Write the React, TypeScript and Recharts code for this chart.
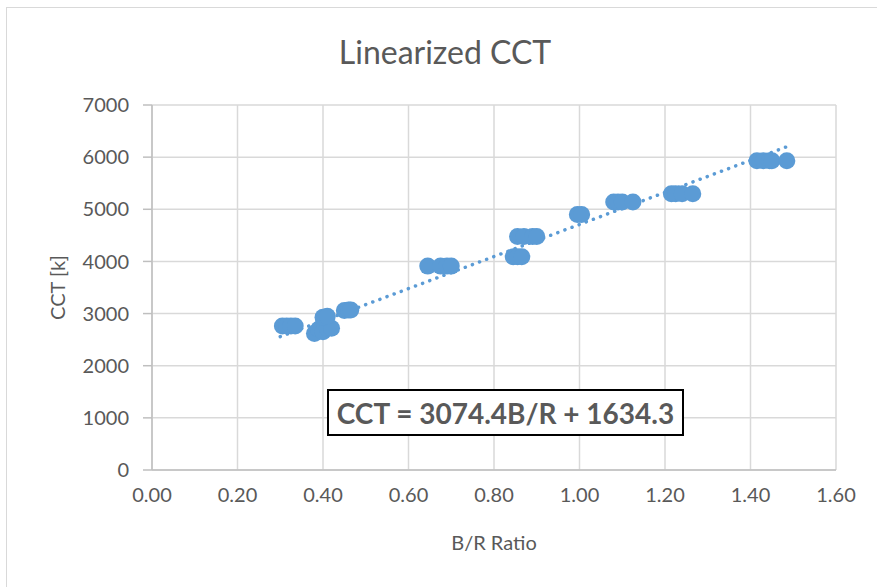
import {
  CartesianGrid,
  ReferenceLine,
  Scatter,
  ScatterChart,
  XAxis,
  YAxis,
  Label,
} from 'recharts';

// B/R ratio and CCT readings
const bRatio = [
  0.305, 0.315, 0.325, 0.335,
  0.38, 0.39, 0.40, 0.41, 0.42,
  0.40, 0.41,
  0.45, 0.46, 0.465,
  0.645, 0.675, 0.69, 0.70,
  0.845, 0.855, 0.865,
  0.855, 0.87, 0.89, 0.90,
  0.995, 1.005,
  1.08, 1.09, 1.10, 1.125,
  1.215, 1.225, 1.24, 1.265,
  1.415, 1.43, 1.445, 1.45, 1.485,
];
const cct = [
  2760, 2760, 2760, 2760,
  2620, 2700, 2650, 2720, 2720,
  2930, 2950,
  3060, 3070, 3070,
  3910, 3910, 3910, 3910,
  4090, 4090, 4090,
  4480, 4480, 4480, 4480,
  4900, 4900,
  5140, 5140, 5140, 5140,
  5300, 5300, 5300, 5300,
  5930, 5930, 5930, 5930, 5930,
];

const xTicks = [0, 0.2, 0.4, 0.6, 0.8, 1.0, 1.2, 1.4, 1.6];
const yTicks = [0, 1000, 2000, 3000, 4000, 5000, 6000, 7000];

// fitted trendline from the chart's equation
const slope = 3074.4;
const intercept = 1634.3;
const trendFrom = 0.3;
const trendTo = 1.49;

const points = bRatio.map((x, i) => ({ x, y: cct[i] }));
const FONT = 'Lato, "Liberation Sans", sans-serif';
const TEXT = '#595959';
const BLUE = '#5b9bd5';

const Dot = (props: any) => <circle cx={props.cx} cy={props.cy} r={8.5} fill={BLUE} />;

export default function App() {
  return (
    <div style={{ position: 'absolute', left: 0, top: 0, width: 877, height: 587, background: '#fff', fontFamily: FONT }}>
      <div
        style={{
          position: 'absolute',
          left: 6,
          top: 7,
          width: 875,
          height: 585,
          border: '1.5px solid #d9d9d9',
          boxSizing: 'border-box',
        }}
      />
      <div
        style={{
          position: 'absolute',
          top: 32,
          left: 0,
          width: 890,
          textAlign: 'center',
          fontSize: 32,
          color: TEXT,
        }}
      >
        Linearized CCT
      </div>
      <ScatterChart
        width={877}
        height={587}
        margin={{ top: 105, right: 41, bottom: 0, left: 0 }}
        style={{ position: 'absolute', left: 0, top: 0 }}
      >
        <CartesianGrid stroke="#d9d9d9" strokeWidth={1.5} />
        <XAxis
          type="number"
          dataKey="x"
          domain={[0, 1.6]}
          ticks={xTicks}
          tickFormatter={(v: number) => v.toFixed(2)}
          height={117}
          tickLine={false}
          axisLine={{ stroke: '#bfbfbf', strokeWidth: 1.5 }}
          tick={{ fill: TEXT, fontSize: 20, fontFamily: FONT }}
          tickMargin={12}
        >
          <Label value="B/R Ratio" position="insideTop" offset={66} fill={TEXT} fontSize={20} fontFamily={FONT} />
        </XAxis>
        <YAxis
          type="number"
          dataKey="y"
          domain={[0, 7000]}
          ticks={yTicks}
          width={152}
          tickSize={9}
          tickLine={{ stroke: '#bfbfbf', strokeWidth: 1.5 }}
          axisLine={{ stroke: '#bfbfbf', strokeWidth: 1.5 }}
          tick={{ fill: TEXT, fontSize: 20, fontFamily: FONT }}
          tickMargin={14}
        >
          <Label
            value="CCT [k]"
            angle={-90}
            position="insideLeft"
            offset={58}
            style={{ textAnchor: 'middle' }}
            fill={TEXT}
            fontSize={20}
            fontFamily={FONT}
          />
        </YAxis>
        <Scatter data={points} shape={Dot} isAnimationActive={false} />
        <ReferenceLine
          segment={[
            { x: trendFrom, y: slope * trendFrom + intercept },
            { x: trendTo, y: slope * trendTo + intercept },
          ]}
          stroke={BLUE}
          strokeWidth={3.5}
          strokeDasharray="0.1 7.5"
          strokeLinecap="round"
        />
      </ScatterChart>
      <div
        style={{
          position: 'absolute',
          left: 327,
          top: 389,
          width: 357,
          height: 47,
          border: '2px solid #000',
          boxSizing: 'border-box',
          background: '#fff',
          display: 'flex',
          alignItems: 'center',
          justifyContent: 'center',
          fontSize: 28,
          fontWeight: 700,
          color: TEXT,
        }}
      >
        CCT = 3074.4B/R + 1634.3
      </div>
    </div>
  );
}
